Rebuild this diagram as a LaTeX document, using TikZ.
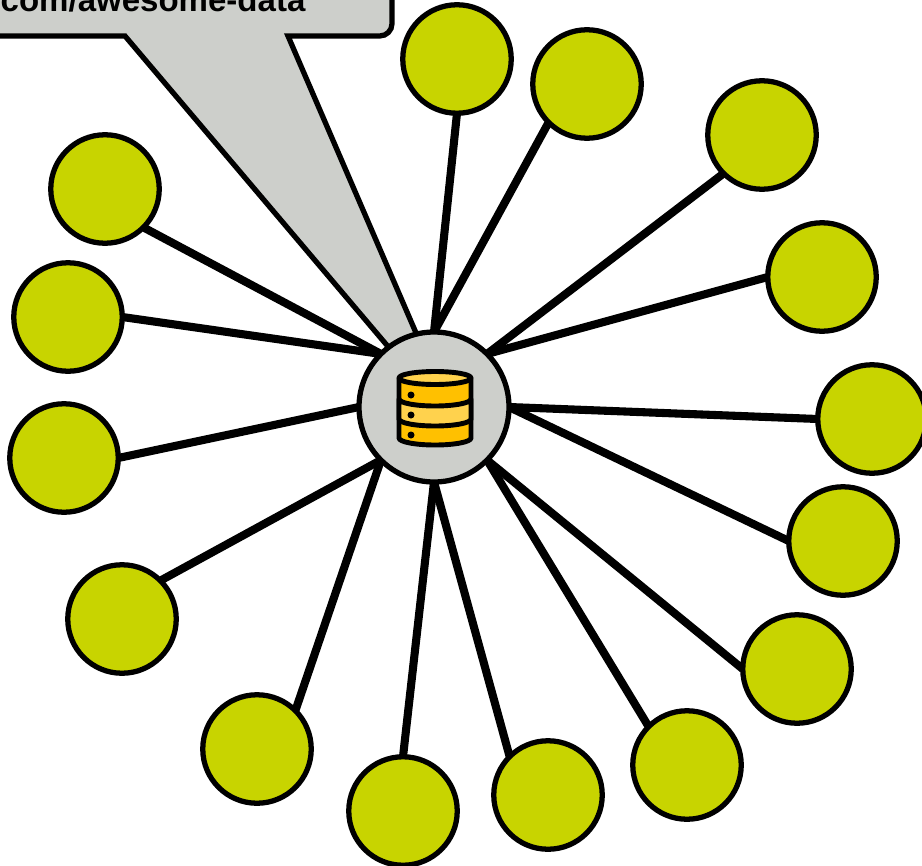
\documentclass[tikz,border=0pt]{standalone}
\usepackage{fontspec}
\setsansfont{Liberation Sans}
\definecolor{hubgray}{HTML}{CDCFCB}
\definecolor{leafgreen}{HTML}{C8D400}
\definecolor{dbdark}{HTML}{FFC000}
\definecolor{dblight}{HTML}{FFD24D}
\tikzset{leaf/.style={circle,draw=black,fill=leafgreen,line width=3pt,minimum size=2.17cm,inner sep=0pt,outer sep=0pt},
 hub/.style={circle,draw=black,fill=hubgray,line width=3pt,minimum size=3cm,inner sep=0pt,outer sep=0pt},
 spoke/.style={draw=black,line width=4.6pt},
 callout/.style={draw=black,fill=hubgray,line width=3pt,line join=miter},
 dbpart/.style={draw=black,line width=2.8pt,line join=round},
 }

\begin{document}
\begin{tikzpicture}[x=.02cm,y=-.02cm]
        \clip (0, 0) rectangle (922, 865);
        % speech bubble, runs off the top left corner
        \coordinate (tip) at (457, 428);
        \draw[callout] (-20, 36) -- (125, 36) -- (tip) -- (288, 36)
            [rounded corners=7pt] -- (392, 36) -- (392, -20) [sharp corners] -- (-20, -20) -- cycle;
        \node[font=\sffamily\bfseries, anchor=base west, inner sep=0pt, scale=1.88] (url) at (0, 12) {com/awesome-data};
        % nodes
        \node[hub] (hub) at (434, 407) {};
        \foreach \n/\x/\y in {a/457/59, b/587/84, c/762/135, d/822/277, e/872/419,
            f/843/541, g/797/669, h/687/765, i/548/795, j/403/811, k/257/749,
            l/122/619, m/64/458, n/68/317, o/105/189} {
            \node[leaf] (\n) at (\x, \y) {};
        }
        % spokes
        \foreach \n/\p/\a in {a/south/north, b/south west/north, c/south west/north east,
            d/west/north east, e/west/east, f/west/east, g/west/south east,
            h/north west/south east, i/north west/south, j/north/south, k/north east/south west,
            l/north east/south west, m/east/west, n/east/north west, o/south east/north west} {
            \draw[spoke] (\n.\p) -- (hub.\a);
        }
        % database icon
        \filldraw[dbpart, fill=dbdark] (399, 378) -- (399, 438) arc[start angle=180, end angle=0, x radius=36, y radius=7]
            -- (471, 378) -- cycle;
        \filldraw[dbpart, fill=dblight] (399, 399) arc[start angle=180, end angle=0, x radius=36, y radius=7]
            -- (471, 419) arc[start angle=0, end angle=180, x radius=36, y radius=7] -- cycle;
        \filldraw[dbpart, fill=dblight] (435, 378) ellipse[x radius=36, y radius=6.5];
        \foreach \y in {395, 415, 435} {
            \fill[black] (411, \y) circle[radius=3.5];
        }
    \end{tikzpicture}
\end{document}
